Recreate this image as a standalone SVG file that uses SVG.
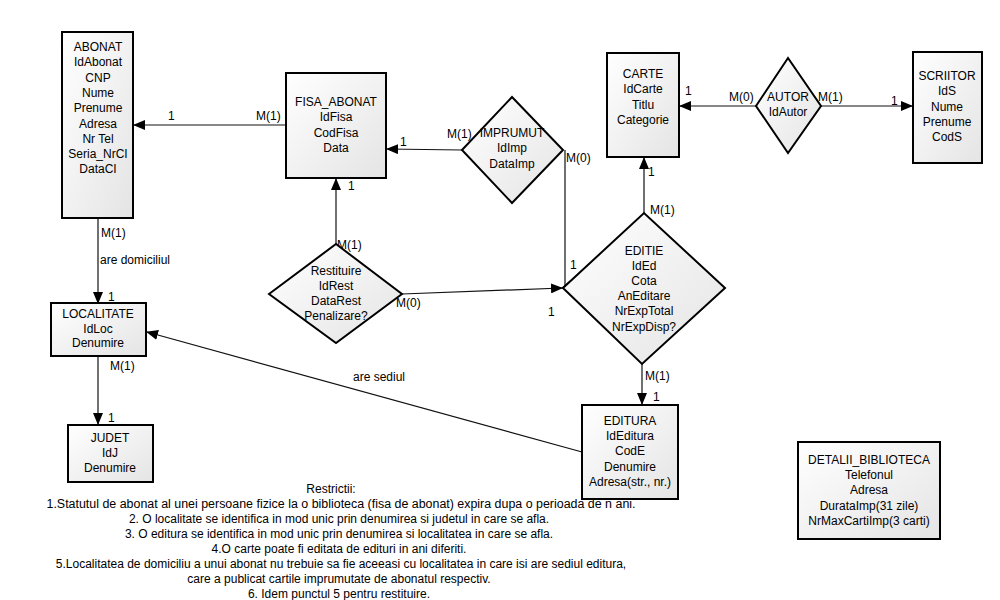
<svg xmlns="http://www.w3.org/2000/svg" width="1000" height="600" viewBox="0 0 1000 600">
<defs>
<linearGradient id="g" x1="0" y1="0" x2="1" y2="1">
<stop offset="0" stop-color="#ffffff"/>
<stop offset="1" stop-color="#e4e4e4"/>
</linearGradient>
<marker id="ah" markerWidth="12" markerHeight="10" refX="11" refY="5" orient="auto" markerUnits="userSpaceOnUse">
<path d="M0,0 L12,5 L0,10 Z" fill="#000"/>
</marker>
<style>
.n{fill:url(#g);stroke:#000;stroke-width:2}
.t{font-family:"Liberation Sans",Arial,sans-serif;font-size:12px;fill:#000;text-anchor:middle}
.l{font-family:"Liberation Sans",Arial,sans-serif;font-size:12px;fill:#000}
.c{fill:none;stroke:#111;stroke-width:1.2;marker-end:url(#ah)}
</style>
</defs>
<rect width="1000" height="600" fill="#fff"/>

<g id="connectors">
<line class="c" x1="286" y1="125" x2="134" y2="125"/>
<line class="c" x1="462" y1="150" x2="387" y2="149"/>
<polyline class="c" points="565,150 565,287 562,288"/>
<line class="c" x1="756" y1="106" x2="680" y2="106"/>
<line class="c" x1="821" y1="106" x2="912" y2="106"/>
<line class="c" x1="644" y1="213" x2="644" y2="158"/>
<line class="c" x1="336" y1="244" x2="336" y2="179"/>
<line class="c" x1="402" y1="294" x2="562" y2="288"/>
<line class="c" x1="98" y1="218" x2="98" y2="303"/>
<line class="c" x1="98" y1="356" x2="98" y2="424"/>
<line class="c" x1="642" y1="364" x2="642" y2="404"/>
<line class="c" x1="582" y1="452" x2="147" y2="332"/>
</g>

<g id="labels">
<text class="l" x="168" y="120">1</text>
<text class="l" x="256" y="120">M(1)</text>
<text class="l" x="400" y="146">1</text>
<text class="l" x="447" y="138">M(1)</text>
<text class="l" x="566" y="162">M(0)</text>
<text class="l" x="685" y="95">1</text>
<text class="l" x="729" y="101">M(0)</text>
<text class="l" x="818" y="101">M(1)</text>
<text class="l" x="891" y="105">1</text>
<text class="l" x="648" y="176">1</text>
<text class="l" x="650" y="214">M(1)</text>
<text class="l" x="570" y="269">1</text>
<text class="l" x="548" y="316">1</text>
<text class="l" x="348" y="190">1</text>
<text class="l" x="337" y="249">M(1)</text>
<text class="l" x="396" y="307">M(0)</text>
<text class="l" x="101" y="237">M(1)</text>
<text class="l" x="100" y="264">are domiciliul</text>
<text class="l" x="108" y="301">1</text>
<text class="l" x="110" y="370">M(1)</text>
<text class="l" x="108" y="422">1</text>
<text class="l" x="645" y="380">M(1)</text>
<text class="l" x="653" y="401">1</text>
<text class="l" x="353" y="381">are sediul</text>
</g>

<g id="ABONAT">
<rect class="n" x="62" y="32" width="71" height="186"/>
<text class="t" x="98" y="51">ABONAT<tspan x="98" dy="15.3">IdAbonat</tspan><tspan x="98" dy="15.3">CNP</tspan><tspan x="98" dy="15.3">Nume</tspan><tspan x="98" dy="15.3">Prenume</tspan><tspan x="98" dy="15.3">Adresa</tspan><tspan x="98" dy="15.3">Nr Tel</tspan><tspan x="98" dy="15.3">Seria_NrCI</tspan><tspan x="98" dy="15.3">DataCI</tspan></text>
</g>

<g id="FISA_ABONAT">
<rect class="n" x="286" y="73" width="100" height="105"/>
<text class="t" x="336" y="106">FISA_ABONAT<tspan x="336" dy="15.3">IdFisa</tspan><tspan x="336" dy="15.3">CodFisa</tspan><tspan x="336" dy="15.3">Data</tspan></text>
</g>

<g id="IMPRUMUT">
<polygon class="n" points="462,150 512,97 563,150 512,203"/>
<text class="t" x="512" y="137">IMPRUMUT<tspan x="512" dy="15.3">IdImp</tspan><tspan x="512" dy="15.3">DataImp</tspan></text>
</g>

<g id="CARTE">
<rect class="n" x="607" y="53" width="72" height="104"/>
<text class="t" x="643" y="78">CARTE<tspan x="643" dy="15.3">IdCarte</tspan><tspan x="643" dy="15.3">Titlu</tspan><tspan x="643" dy="15.3">Categorie</tspan></text>
</g>

<g id="AUTOR">
<polygon class="n" points="756,106 788,58 821,106 788,153"/>
<text class="t" x="788" y="101">AUTOR<tspan x="788" dy="15.3">IdAutor</tspan></text>
</g>

<g id="SCRIITOR">
<rect class="n" x="913" y="52" width="69" height="111"/>
<text class="t" x="947" y="80">SCRIITOR<tspan x="947" dy="15.3">IdS</tspan><tspan x="947" dy="15.3">Nume</tspan><tspan x="947" dy="15.3">Prenume</tspan><tspan x="947" dy="15.3">CodS</tspan></text>
</g>

<g id="EDITIE">
<polygon class="n" points="563,288 644,213 725,288 642,364"/>
<text class="t" x="644" y="255">EDITIE<tspan x="644" dy="15.1">IdEd</tspan><tspan x="644" dy="15.1">Cota</tspan><tspan x="644" dy="15.1">AnEditare</tspan><tspan x="644" dy="15.1">NrExpTotal</tspan><tspan x="644" dy="15.1">NrExpDisp?</tspan></text>
</g>

<g id="Restituire">
<polygon class="n" points="269,294 336,244 402,294 336,343"/>
<text class="t" x="336" y="275">Restituire<tspan x="336" dy="15">IdRest</tspan><tspan x="336" dy="15">DataRest</tspan><tspan x="336" dy="15">Penalizare?</tspan></text>
</g>

<g id="LOCALITATE">
<rect class="n" x="51" y="303" width="95" height="53"/>
<text class="t" x="98" y="318">LOCALITATE<tspan x="98" dy="14.5">IdLoc</tspan><tspan x="98" dy="14.5">Denumire</tspan></text>
</g>

<g id="JUDET">
<rect class="n" x="68" y="425" width="85" height="57"/>
<text class="t" x="110" y="442">JUDET<tspan x="110" dy="15">IdJ</tspan><tspan x="110" dy="15">Denumire</tspan></text>
</g>

<g id="EDITURA">
<rect class="n" x="582" y="405" width="96" height="94"/>
<text class="t" x="630" y="425">EDITURA<tspan x="630" dy="15.2">IdEditura</tspan><tspan x="630" dy="15.2">CodE</tspan><tspan x="630" dy="15.2">Denumire</tspan><tspan x="630" dy="15.2">Adresa(str., nr.)</tspan></text>
</g>

<g id="DETALII_BIBLIOTECA">
<rect class="n" x="798" y="442" width="142" height="97"/>
<text class="t" x="869" y="464">DETALII_BIBLIOTECA<tspan x="869" dy="15.2">Telefonul</tspan><tspan x="869" dy="15.2">Adresa</tspan><tspan x="869" dy="15.2">DurataImp(31 zile)</tspan><tspan x="869" dy="15.2">NrMaxCartiImp(3 carti)</tspan></text>
</g>

<g id="Restrictii">
<text class="t" x="331" y="493">Restrictii:</text>
<text class="t" x="341" y="508" textLength="589" lengthAdjust="spacingAndGlyphs">1.Statutul de abonat al unei persoane fizice la o biblioteca (fisa de abonat) expira dupa o perioada de n ani.</text>
<text class="t" x="339" y="523">2. O localitate se identifica in mod unic prin denumirea si judetul in care se afla.</text>
<text class="t" x="339" y="538">3. O editura se identifica in mod unic prin denumirea si localitatea in care se afla.</text>
<text class="t" x="339" y="553">4.O carte poate fi editata de edituri in ani diferiti.</text>
<text class="t" x="341" y="568">5.Localitatea de domiciliu a unui abonat nu trebuie sa fie aceeasi cu localitatea in care isi are sediul editura,</text>
<text class="t" x="339" y="583">care a publicat cartile imprumutate de abonatul respectiv.</text>
<text class="t" x="339" y="598">6. Idem punctul 5 pentru restituire.</text>
</g>
</svg>
